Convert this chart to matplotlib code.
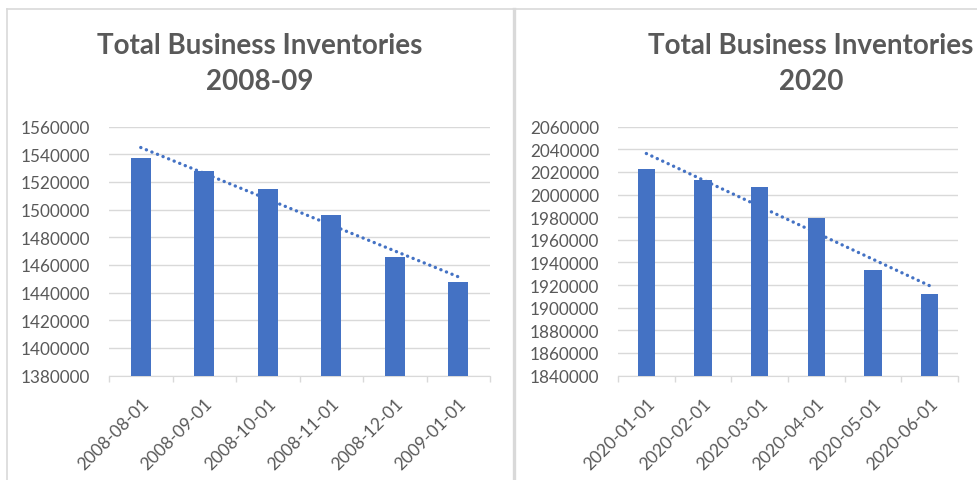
import matplotlib.pyplot as plt
from matplotlib.lines import Line2D
import numpy as np

# monthly total business inventories (millions of dollars)
months_0809 = ["2008-08-01", "2008-09-01", "2008-10-01", "2008-11-01", "2008-12-01", "2009-01-01"]
inventories_0809 = [1537300, 1528000, 1514600, 1496100, 1465600, 1447500]

months_2020 = ["2020-01-01", "2020-02-01", "2020-03-01", "2020-04-01", "2020-05-01", "2020-06-01"]
inventories_2020 = [2022200, 2013300, 2006800, 1979600, 1932900, 1912200]

BLUE = "#4472C4"
TEXT = "#595959"
GRID = "#D9D9D9"

W, H = 978, 481
plt.rcParams["font.family"] = ["Lato", "DejaVu Sans"]
fig = plt.figure(figsize=(W / 100, H / 100), dpi=100)


def px_axes(left, top, right, bottom):
    return fig.add_axes([left / W, 1 - bottom / H, (right - left) / W, (bottom - top) / H])


def draw_panel(ax, labels, values, lo, hi):
    x = np.arange(len(values))
    ax.bar(x, values, width=0.31, color=BLUE, zorder=3)

    # linear trendline through the bars, round dots
    slope, intercept = np.polyfit(x, values, 1)
    ax.plot(x, slope * x + intercept, linestyle=(0, (0.05, 1.75)), lw=2.4,
            color=BLUE, dash_capstyle="round", zorder=4)

    ax.set_xlim(-0.5, len(values) - 0.5)
    ax.set_ylim(lo, hi)
    yt = np.arange(lo, hi + 1, 20000)
    ax.set_yticks(yt)
    ax.set_yticklabels([str(v) for v in yt])
    ax.tick_params(axis="y", length=0, pad=13.5, labelsize=12.3, labelcolor=TEXT)
    ax.grid(axis="y", color=GRID, lw=1, zorder=0)

    ax.set_xticks(x)
    ax.set_xticklabels(labels, rotation=45, ha="right", va="top", rotation_mode="anchor")
    ax.tick_params(axis="x", which="major", length=0, pad=14, labelsize=12.5, labelcolor=TEXT)
    ax.set_xticks(np.arange(-0.5, len(values)), minor=True)
    ax.tick_params(axis="x", which="minor", length=4, width=1, color=GRID)

    for side in ("left", "right", "top"):
        ax.spines[side].set_visible(False)
    ax.spines["bottom"].set_color(GRID)
    ax.set_facecolor("none")


ax1 = px_axes(109, 127.7, 490, 376.5)
draw_panel(ax1, months_0809, inventories_0809, 1380000, 1560000)

ax2 = px_axes(618, 127.7, 958, 376.5)
draw_panel(ax2, months_2020, inventories_2020, 1840000, 2060000)

# titles
for cx, second in ((260, "2008-09"), (811, "2020")):
    fig.text(cx / W, 1 - 46 / H, "Total Business Inventories", ha="center", va="center",
             fontsize=20, fontweight="bold", color=TEXT)
    fig.text(cx / W, 1 - 82 / H, second, ha="center", va="center",
             fontsize=20, fontweight="bold", color=TEXT)

# chart frames
fig.add_artist(Line2D([7 / W, 1], [1 - 10 / H, 1 - 10 / H], color=GRID, lw=1.2))
fig.add_artist(Line2D([7 / W, 7 / W], [0, 1 - 10 / H], color=GRID, lw=1.2))
fig.add_artist(Line2D([514.5 / W, 514.5 / W], [0, 1 - 10 / H], color=GRID, lw=2.4))

fig.savefig("out.png", dpi=100)
